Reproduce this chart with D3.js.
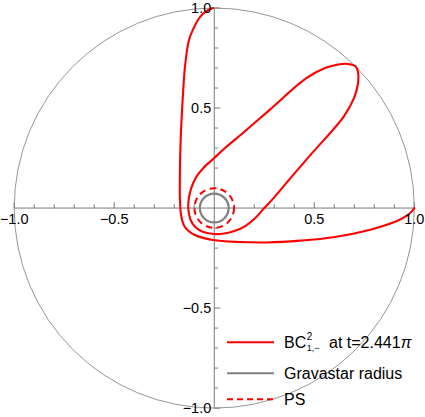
<!DOCTYPE html>
<html>
<head>
<meta charset="utf-8">
<script src="https://cdn.jsdelivr.net/npm/d3@7"></script>
<style>
  html, body { margin: 0; padding: 0; background: #fff; }
  svg { display: block; }
  text { font-family: "Liberation Sans", Arial, sans-serif; fill: #000; }
</style>
</head>
<body>
<svg id="chart" width="425" height="417"></svg>
<script>
// ---- data ----
// open arc: from the tip at (0,1) down the left side, round the bottom, to the tip at (1,0)
const arcX = [-0.005, -0.03, -0.06, -0.0815, -0.105, -0.1265, -0.1465, -0.158, -0.168, -0.1715, -0.1715, -0.165, -0.1465,
  -0.0965, -0.0065, 0.1285, 0.262, 0.43, 0.595, 0.78, 0.91, 0.965, 0.99, 1.0];
const arcY = [1.0, 0.99, 0.968, 0.94, 0.895, 0.84, 0.705, 0.54, 0.34, 0.19, 0.04, -0.04, -0.095,
  -0.135, -0.16, -0.17, -0.172, -0.163, -0.146, -0.108, -0.066, -0.037, -0.014, 0.0];
// closed loop through the petal at 45 degrees
const loopX = [0.707, 0.67, 0.62, 0.5535, 0.4585, 0.278, 0.1535, 0.0535, 0.0, -0.05, -0.09, -0.115, -0.127, -0.13,
  -0.12, -0.095, -0.055, 0.0, 0.05, 0.1, 0.155, 0.205, 0.25, 0.30, 0.384, 0.492, 0.648, 0.70, 0.718, 0.72];
const loopY = [0.707, 0.72, 0.718, 0.70, 0.648, 0.492, 0.384, 0.30, 0.25, 0.205, 0.155, 0.1, 0.05, 0.0,
  -0.055, -0.095, -0.12, -0.13, -0.127, -0.115, -0.09, -0.05, 0.0, 0.0535, 0.1535, 0.278, 0.4585, 0.5535, 0.62, 0.67];

const boundaryRadius = 1.0;
const gravastarRadius = 0.072;
const psRadius = 0.099;

const majorTicks = [-1, -0.5, 0.5, 1];
const majorTickLabels = ["\u22121.0", "\u22120.5", "0.5", "1.0"];
const minorTicks = [-0.9, -0.8, -0.7, -0.6, -0.4, -0.3, -0.2, -0.1, 0.1, 0.2, 0.3, 0.4, 0.6, 0.7, 0.8, 0.9];

const legendLabels = ["Gravastar radius", "PS"];

// ---- drawing ----
const svg = d3.select("#chart");
const x = d3.scaleLinear().domain([-1, 1]).range([14.2, 414.3]);
const y = d3.scaleLinear().domain([-1, 1]).range([408.1, 8]);
const rpx = r => x(r) - x(0);

const axisColor = "#7a7a7a";

// outer boundary circle
svg.append("circle")
  .attr("cx", x(0)).attr("cy", y(0)).attr("r", rpx(boundaryRadius))
  .attr("fill", "none").attr("stroke", "#8a8a8a").attr("stroke-width", 0.9);

// axes
svg.append("line").attr("x1", x(-1)).attr("x2", x(1)).attr("y1", y(0)).attr("y2", y(0))
  .attr("stroke", axisColor).attr("stroke-width", 1);
svg.append("line").attr("x1", x(0)).attr("x2", x(0)).attr("y1", y(-1)).attr("y2", y(1))
  .attr("stroke", axisColor).attr("stroke-width", 1);

// ticks: x axis (pointing up), y axis (pointing right)
const g = svg.append("g").attr("stroke", axisColor).attr("stroke-width", 1);
minorTicks.forEach(t => {
  g.append("line").attr("x1", x(t)).attr("x2", x(t)).attr("y1", y(0)).attr("y2", y(0) - 3.8);
  g.append("line").attr("x1", x(0)).attr("x2", x(0) + 3.8).attr("y1", y(t)).attr("y2", y(t));
});
majorTicks.forEach(t => {
  g.append("line").attr("x1", x(t)).attr("x2", x(t)).attr("y1", y(0)).attr("y2", y(0) - 6);
  g.append("line").attr("x1", x(0)).attr("x2", x(0) + 6).attr("y1", y(t)).attr("y2", y(t));
});

// red trajectory
const arcLine = d3.line()
  .x((d, i) => x(arcX[i]))
  .y((d, i) => y(arcY[i]))
  .curve(d3.curveCatmullRom.alpha(0.5));
const loopLine = d3.line()
  .x((d, i) => x(loopX[i]))
  .y((d, i) => y(loopY[i]))
  .curve(d3.curveCatmullRomClosed.alpha(0.5));
svg.append("path")
  .attr("d", arcLine(arcX))
  .attr("fill", "none").attr("stroke", "#ff0000").attr("stroke-width", 2.1)
  .attr("stroke-linejoin", "round").attr("stroke-linecap", "round");
svg.append("path")
  .attr("d", loopLine(loopX))
  .attr("fill", "none").attr("stroke", "#ff0000").attr("stroke-width", 2.1)
  .attr("stroke-linejoin", "round");

// gravastar radius & photon sphere
svg.append("circle")
  .attr("cx", x(0)).attr("cy", y(0)).attr("r", rpx(gravastarRadius))
  .attr("fill", "none").attr("stroke", "#808080").attr("stroke-width", 2.2);
svg.append("circle")
  .attr("cx", x(0)).attr("cy", y(0)).attr("r", rpx(psRadius))
  .attr("fill", "none").attr("stroke", "#ff0000").attr("stroke-width", 2)
  .attr("stroke-dasharray", "6.5,4.5");

// tick labels
const fs = 14.5;
majorTicks.forEach((t, i) => {
  svg.append("text").attr("x", x(t)).attr("y", y(0) + 16)
    .attr("text-anchor", "middle").attr("font-size", fs).text(majorTickLabels[i]);
  svg.append("text").attr("x", x(0) - 3).attr("y", y(t) + 5)
    .attr("text-anchor", "end").attr("font-size", fs).text(majorTickLabels[i]);
});

// legend
const lx1 = 227, lx2 = 274, tx = 284;
const ly = [342.3, 373.3, 399.3];
const lfs = 16;
svg.append("line").attr("x1", lx1).attr("x2", lx2).attr("y1", ly[0]).attr("y2", ly[0])
  .attr("stroke", "#ff0000").attr("stroke-width", 2);
svg.append("line").attr("x1", lx1).attr("x2", lx2).attr("y1", ly[1]).attr("y2", ly[1])
  .attr("stroke", "#808080").attr("stroke-width", 2);
svg.append("line").attr("x1", lx1).attr("x2", lx2).attr("y1", ly[2]).attr("y2", ly[2])
  .attr("stroke", "#ff0000").attr("stroke-width", 2).attr("stroke-dasharray", "6,4");

// first legend entry: BC with stacked super/subscript, in one text element
const base = ly[0] + 5.4;
const t0 = svg.append("text").attr("x", tx).attr("y", base).attr("font-size", lfs);
const tBC = t0.append("tspan").text("BC");
const bw = tBC.node().getComputedTextLength();
t0.append("tspan").attr("x", tx + bw + 0.5).attr("y", base - 7.5).attr("font-size", 10).text("2");
const tSub = t0.append("tspan").attr("x", tx + bw + 0.5).attr("y", base + 3).attr("font-size", 9).text("1,\u2212");
const sw = tSub.node().getComputedTextLength();
t0.append("tspan").attr("x", tx + bw + sw + 10).attr("y", base).text("at t=2.441");
t0.append("tspan").attr("font-style", "italic").text("\u03c0");

legendLabels.forEach((lab, i) => {
  svg.append("text").attr("x", tx).attr("y", ly[i + 1] + 5.4).attr("font-size", lfs).text(lab);
});
</script>
</body>
</html>
